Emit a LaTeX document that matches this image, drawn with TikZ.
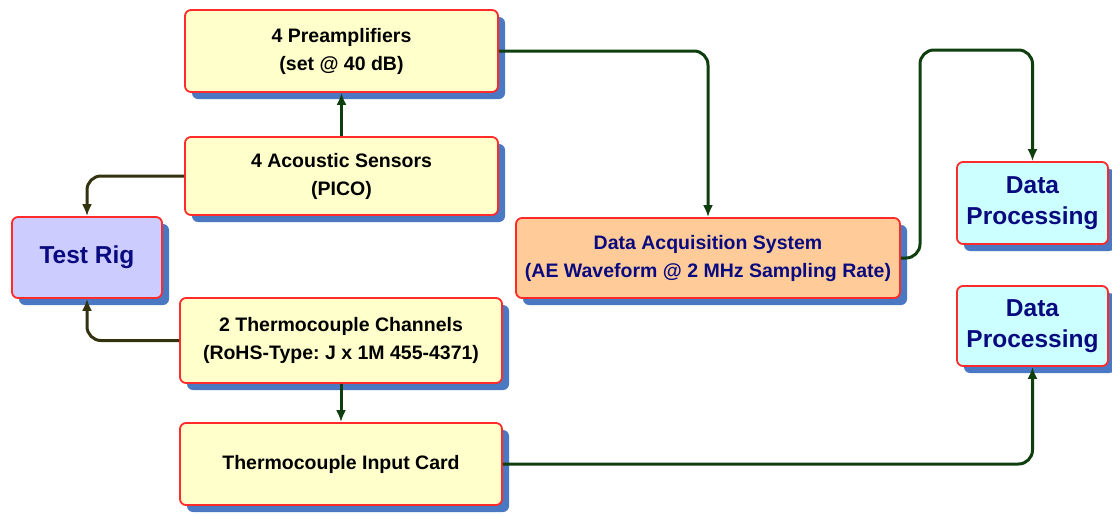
\documentclass[tikz,border=0pt]{standalone}
\usepackage{fontspec}
\setmainfont{Liberation Sans}
\usetikzlibrary{arrows.meta}
\usetikzlibrary{shadows}
\frenchspacing

\definecolor{boxred}{HTML}{FF2A2A}
\definecolor{shadowblue}{HTML}{4A78C2}
\definecolor{paleyellow}{HTML}{FFFFCC}
\definecolor{peach}{HTML}{FFCC99}
\definecolor{lavender}{HTML}{CCCCFF}
\definecolor{palecyan}{HTML}{CCFFFF}
\definecolor{navy}{HTML}{0A0A80}
\definecolor{wiregreen}{HTML}{0F3F0F}
\definecolor{wireolive}{HTML}{333310}

\begin{document}
\begin{tikzpicture}[x=1pt, y=-1pt]
        \tikzset{
          blk/.style={draw=boxred, line width=1.8pt, rounded corners=6pt, align=center,
            font=\bfseries\fontsize{19.5}{28}\selectfont, inner sep=2pt,
            general shadow={fill=shadowblue, shadow xshift=7pt, shadow yshift=-7pt}},
          yel/.style={blk, fill=paleyellow},
          big/.style={font=\bfseries\fontsize{24.5}{31}\selectfont},
          wire/.style={wiregreen, line width=3pt, rounded corners=14pt, -{Latex[length=12pt,width=10pt]}},
          owire/.style={wire, wireolive}
        }
        \useasboundingbox (0,0) rectangle (1112,517);

        % — left column —
        \node[yel, minimum width=313pt, minimum height=82pt] (pre) at (341.5,51) {4 Preamplifiers\\(set @ 40 dB)};
        \node[yel, minimum width=313pt, minimum height=78pt] (ac) at (341.5,176) {4 Acoustic Sensors\\(PICO)};
        \node[blk, big, fill=lavender, text=navy,
              minimum width=150pt, minimum height=81pt] (rig) at (87,257.5) {Test Rig};
        \node[yel, minimum width=322pt, minimum height=85pt] (tc) at (341,340.5) {2 Thermocouple Channels\\(RoHS-Type: J x 1M 455-4371)};
        \node[yel, minimum width=322pt, minimum height=82pt] (card) at (341,464) {Thermocouple Input Card};

        % — acquisition and processing —
        \node[blk, fill=peach, text=navy, minimum width=384pt, minimum height=80pt] (daq) at (708,258)
              {Data Acquisition System\\(AE Waveform @ 2 MHz Sampling Rate)};
        \node[blk, big, fill=palecyan, text=navy,
              minimum width=151pt, minimum height=82pt] (dp1) at (1032.5,203) {Data\\Processing};
        \node[blk, big, fill=palecyan, text=navy,
              minimum width=151pt, minimum height=80pt] (dp2) at (1032.5,326) {Data\\Processing};

        \coordinate (hop) at (920,50);

        % — connectors —
        \draw[wire]  (ac.north) -- (pre.south);
        \draw[owire] (ac.west) -| (rig.north);
        \draw[owire] (tc.west) -| (rig.south);
        \draw[wire]  (tc.south) -- (card.north);
        \draw[wire]  (pre.east) -| (daq.north);
        \draw[wire]  (daq.east) -| (hop) -| (dp1.north);
        \draw[wire]  (card.east) -| (dp2.south);
\end{tikzpicture}
\end{document}
